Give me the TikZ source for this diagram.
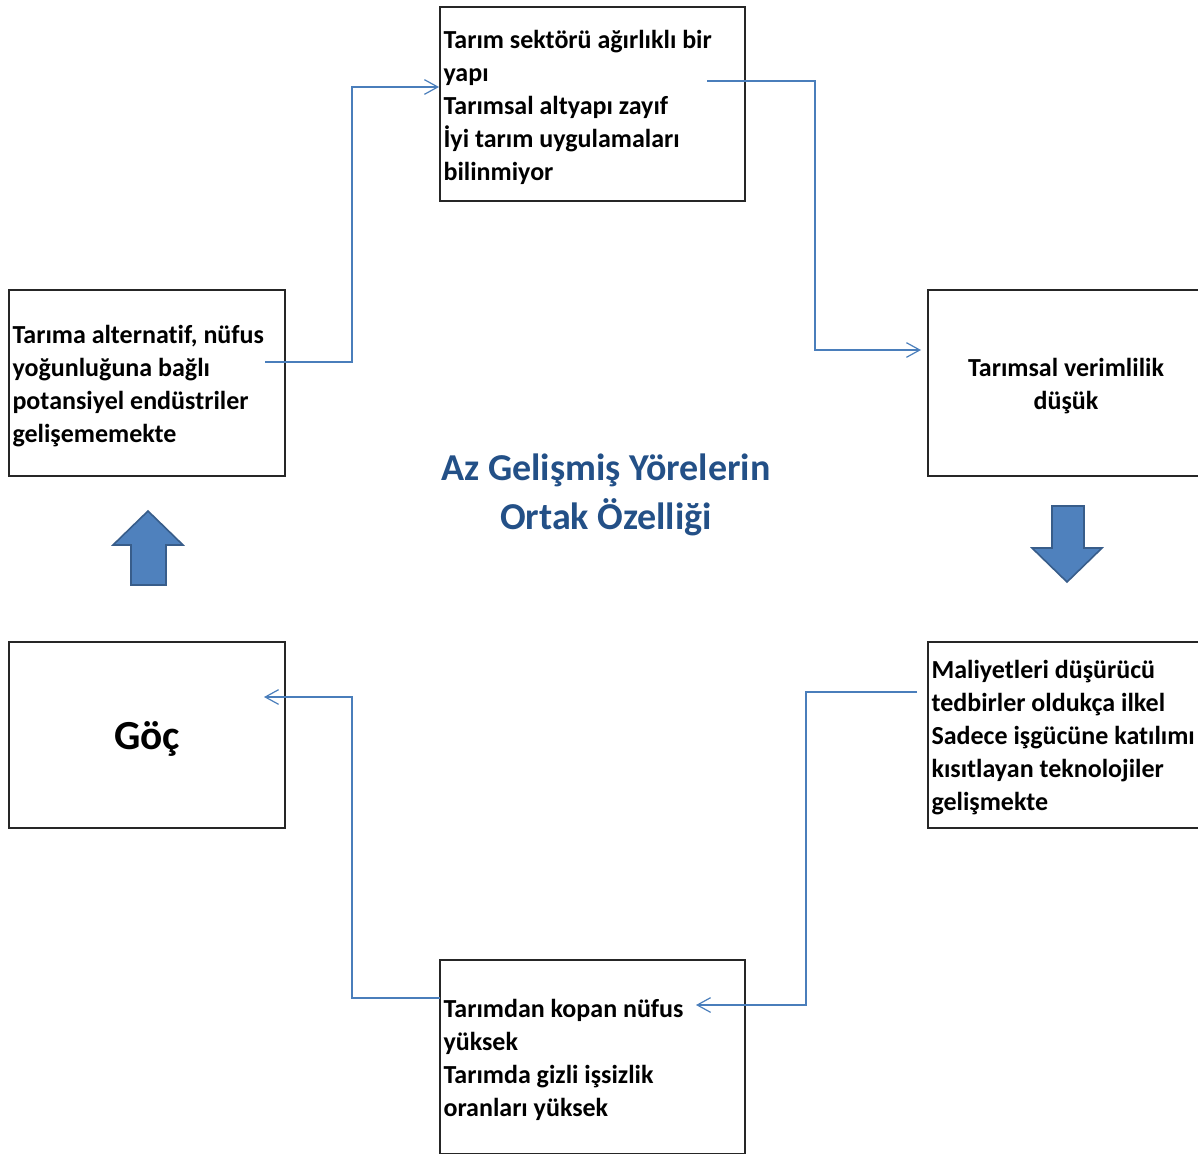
\documentclass[tikz,border=0pt]{standalone}
\usepackage{fontspec}
\setmainfont[Ligatures=NoCommon]{Carlito}
\usetikzlibrary{arrows.meta}
\newlength\px
\setlength\px{0.75pt}
\definecolor{linkblue}{RGB}{74,126,187}
\definecolor{arrowfill}{RGB}{79,129,189}
\definecolor{arrowedge}{RGB}{56,93,138}
\definecolor{titleblue}{RGB}{35,80,135}
\tikzset{
    box/.style={draw=black!85, line width=1.1pt, minimum width=276\px, minimum height=186\px, inner sep=0pt},
    widebox/.style={box, minimum width=305\px, minimum height=194\px},
    txt/.style={font=\bfseries\fontsize{19.5}{24.75}\selectfont, align=left, inner sep=0pt, anchor=west},
    link/.style={draw=linkblue, line width=0.9pt, -{Straight Barb[length=10pt,width=11pt]}},
    bigarrow/.style={fill=arrowfill, draw=arrowedge, line width=1.2pt, line join=miter},
}

\begin{document}
\begin{tikzpicture}[x=0.75pt, y=-0.75pt]
    \useasboundingbox (0,0) rectangle (1198,1153);
    \clip (0,0) rectangle (1198,1153);
    \node[widebox] (tarim) at (592.5,104) {};
    \node[box] (alternatif) at (147,383) {};
    \node[box] (verim) at (1066,383) {};
    \node[box] (goc) at (147,735) {};
    \node[box] (maliyet) at (1066,735) {};
    \node[widebox] (kopan) at (592.5,1057) {};
    \node[txt] (tarim-t) at ([xshift=4\px, yshift=-3\px]tarim.west) {Tarım sektörü ağırlıklı bir\\yapı\\Tarımsal altyapı zayıf\\İyi tarım uygulamaları\\bilinmiyor};
    \node[txt] (alternatif-t) at ([xshift=4\px, yshift=-3\px]alternatif.west) {Tarıma alternatif, nüfus\\yoğunluğuna bağlı\\potansiyel endüstriler\\gelişememekte};
    \node[txt, anchor=center, align=center] (verim-t) at ([yshift=-3\px]verim.center) {Tarımsal verimlilik\\düşük};
    \node[font=\bfseries\fontsize{31}{36}\selectfont] (goc-t) at ([yshift=-4\px]goc.center) {Göç};
    \node[txt] (maliyet-t) at ([xshift=4\px, yshift=-3\px]maliyet.west) {Maliyetleri düşürücü\\tedbirler oldukça ilkel\\Sadece işgücüne katılımı\\kısıtlayan teknolojiler\\gelişmekte};
    \node[txt] (kopan-t) at ([xshift=4\px, yshift=-3\px]kopan.west) {Tarımdan kopan nüfus\\yüksek\\Tarımda gizli işsizlik\\oranları yüksek};
    \node[font=\bfseries\fontsize{28.5}{36.75}\selectfont, text=titleblue, align=center] (baslik) at (606,495) {Az Gelişmiş Yörelerin\\Ortak Özelliği};
    \coordinate (alternatif-out) at (265,362);
    \coordinate (tarim-in) at (439,87);
    \coordinate (tarim-out) at (707,81);
    \coordinate (verim-in) at (921,350);
    \coordinate (maliyet-out) at (917,692);
    \coordinate (kopan-in) at (696,1005);
    \coordinate (kopan-out) at (440,998);
    \coordinate (goc-in) at (264,697);
    \draw[link] (alternatif-out) -- ++(87,0) |- (tarim-in);
    \draw[link] (tarim-out) -- ++(108,0) |- (verim-in);
    \draw[link] (maliyet-out) -- ++(-111,0) |- (kopan-in);
    \draw[link] (kopan-out) -- ++(-88,0) |- (goc-in);
    \filldraw[bigarrow] (148,511) -- (183,545) -- (166,545) -- (166,585) -- (131,585) -- (131,545) -- (113,545) -- cycle;
    \filldraw[bigarrow] (1067,582) -- (1102,548) -- (1084,548) -- (1084,506) -- (1052,506) -- (1052,548) -- (1032,548) -- cycle;
\end{tikzpicture}
\end{document}
